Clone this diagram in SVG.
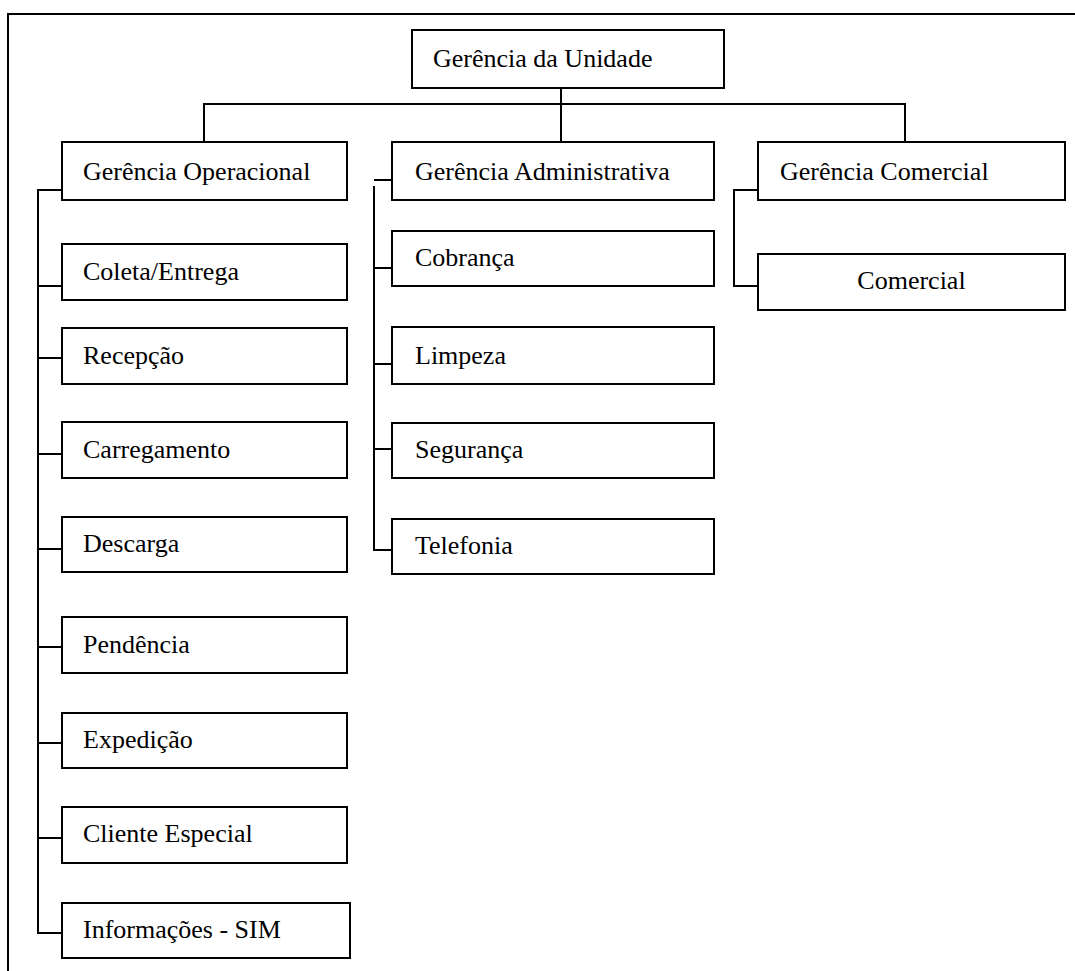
<svg xmlns="http://www.w3.org/2000/svg" width="1075" height="971" viewBox="0 0 1075 971">
<style>
.box{fill:#fff;stroke:#000;stroke-width:2}
.ln{fill:none;stroke:#000;stroke-width:2}
.t{font-family:'Liberation Serif','Times New Roman','DejaVu Serif',serif;font-size:26px;fill:#000}
</style>
<rect width="1075" height="971" fill="#fff"/>
<path class="ln" d="M8,975 V14 H1080"/>
<g id="connectors">
<path class="ln" d="M561,88 V142"/>
<path class="ln" d="M204,142 V104 H905 V142"/>
<path class="ln" d="M62,190 H38 V933 H62"/>
<path class="ln" d="M38,286 H62 M38,358 H62 M38,454 H62 M38,549 H62 M38,647 H62 M38,743 H62 M38,838 H62"/>
<path class="ln" d="M374,180 H392"/>
<path class="ln" d="M374,186 V550 H392"/>
<path class="ln" d="M374,268 H392 M374,364 H392 M374,449 H392"/>
<path class="ln" d="M758,190 H734 V286 H758"/>
</g>
<g id="n-unidade"><rect class="box" x="412" y="30" width="312" height="58"/><text class="t" x="433" y="67">Gerência da Unidade</text></g>
<g id="n-operacional"><rect class="box" x="62" y="142" width="285" height="58"/><text class="t" x="83" y="180">Gerência Operacional</text></g>
<g id="n-administrativa"><rect class="box" x="392" y="142" width="322" height="58"/><text class="t" x="415" y="180">Gerência Administrativa</text></g>
<g id="n-comercial-g"><rect class="box" x="758" y="142" width="307" height="58"/><text class="t" x="780" y="180">Gerência Comercial</text></g>
<g id="n-comercial"><rect class="box" x="758" y="254" width="307" height="56"/><text class="t" x="911.5" y="289" text-anchor="middle">Comercial</text></g>
<g id="n-coleta"><rect class="box" x="62" y="244" width="285" height="56"/><text class="t" x="83" y="280">Coleta/Entrega</text></g>
<g id="n-recepcao"><rect class="box" x="62" y="328" width="285" height="56"/><text class="t" x="83" y="364">Recepção</text></g>
<g id="n-carregamento"><rect class="box" x="62" y="422" width="285" height="56"/><text class="t" x="83" y="458">Carregamento</text></g>
<g id="n-descarga"><rect class="box" x="62" y="517" width="285" height="55"/><text class="t" x="83" y="552">Descarga</text></g>
<g id="n-pendencia"><rect class="box" x="62" y="617" width="285" height="56"/><text class="t" x="83" y="653">Pendência</text></g>
<g id="n-expedicao"><rect class="box" x="62" y="713" width="285" height="55"/><text class="t" x="83" y="748">Expedição</text></g>
<g id="n-cliente"><rect class="box" x="62" y="807" width="285" height="56"/><text class="t" x="83" y="842">Cliente Especial</text></g>
<g id="n-informacoes"><rect class="box" x="62" y="903" width="288" height="55"/><text class="t" x="83" y="938">Informações - SIM</text></g>
<g id="n-cobranca"><rect class="box" x="392" y="231" width="322" height="55"/><text class="t" x="415" y="266">Cobrança</text></g>
<g id="n-limpeza"><rect class="box" x="392" y="327" width="322" height="57"/><text class="t" x="415" y="364">Limpeza</text></g>
<g id="n-seguranca"><rect class="box" x="392" y="423" width="322" height="55"/><text class="t" x="415" y="458">Segurança</text></g>
<g id="n-telefonia"><rect class="box" x="392" y="519" width="322" height="55"/><text class="t" x="415" y="554">Telefonia</text></g>
</svg>
